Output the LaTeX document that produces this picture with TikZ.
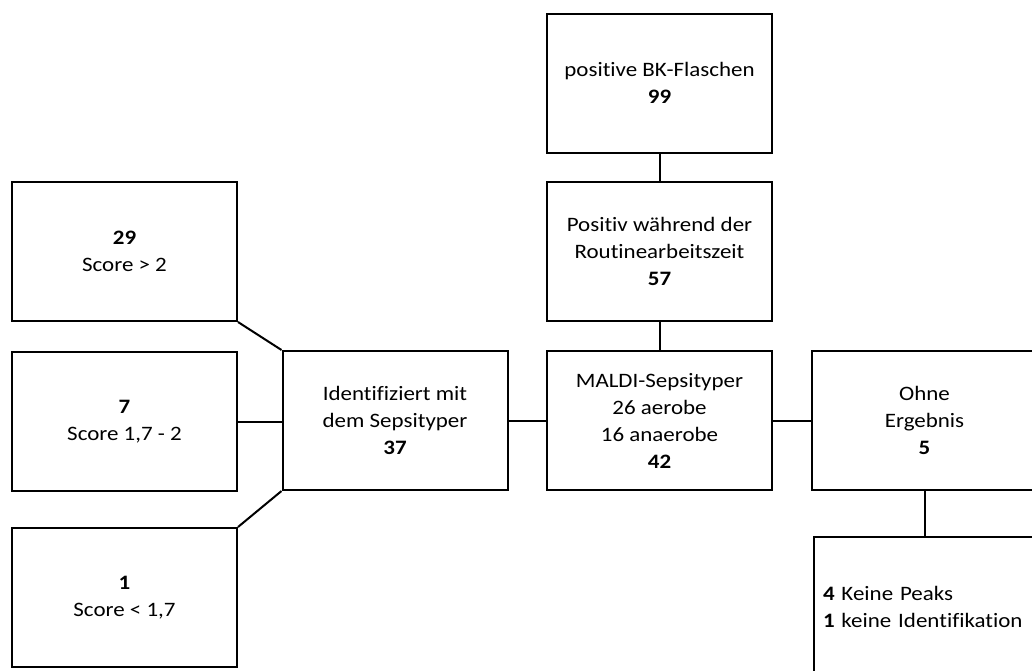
\documentclass[tikz,border=0pt]{standalone}
\usepackage{fontspec}
\setmainfont{Carlito}[FakeStretch=1.12, Ligatures=NoCommon]
\usetikzlibrary{positioning}

\begin{document}
\begin{tikzpicture}[x=1pt, y=-1pt,
  box/.style={draw, line width=2pt, minimum width=225pt, minimum height=139pt,
    align=center, inner sep=0pt},
  link/.style={line width=2pt}]

  \fontsize{20.5}{27}\selectfont

  \newcommand\XL{124.5}
  \newcommand\XM{395}
  \newcommand\XC{659.5}
  \newcommand\XR{924.5}

  \clip (0,0) rectangle (1032,670);

  % middle column
  \node[box] (flaschen) at (\XC, 83) {positive BK-Flaschen\\\textbf{99}};
  \node[box] (routine) at (\XC, 251.5) {Positiv während der\\Routinearbeitszeit\\\textbf{57}};
  \node[box] (maldi) at (\XC, 420.5) {MALDI-Sepsityper\\26 aerobe\\16 anaerobe\\\textbf{42}};

  % left side
  \node[box] (ident) at (\XM, 420.5) {Identifiziert mit\\dem Sepsityper\\\textbf{37}};
  \node[box] (hoch) at (\XL, 251.5) {\textbf{29}\\Score > 2};
  \node[box] (mittel) at (\XL, 421.5) {\textbf{7}\\Score 1,7 - 2};
  \node[box] (niedrig) at (\XL, 597.5) {\textbf{1}\\Score < 1,7};

  % right side
  \node[box] (ohne) at (\XR, 420.5) {Ohne\\Ergebnis\\\textbf{5}};
  \node[box, align=left, text width=206pt] (peaks) at (926, 606.5)
    {\textbf{4} Keine Peaks\\\textbf{1} keine Identifikation};

  \draw[link] (flaschen) -- (routine);
  \draw[link] (routine) -- (maldi);
  \draw[link] (ident) -- (maldi);
  \draw[link] (maldi) -- (ohne);
  \draw[link] (ohne.south) -- (ohne.south |- peaks.north);

  \draw[link] (hoch.south east) -- (ident.north west);
  \draw[link] (mittel.east) -- (mittel.east -| ident.west);
  \draw[link] (niedrig.north east) -- (ident.south west);

\end{tikzpicture}
\end{document}
